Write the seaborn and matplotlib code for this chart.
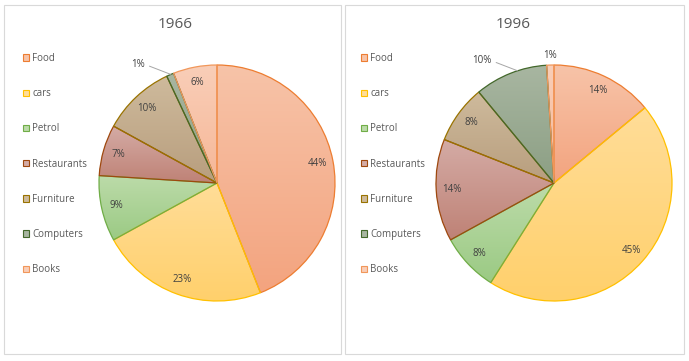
import numpy as np
import matplotlib
matplotlib.use("Agg")
import matplotlib.pyplot as plt
import matplotlib.patches as mpatches
from matplotlib.colors import LinearSegmentedColormap
import seaborn as sns

# данные
categories = ["Food", "cars", "Petrol", "Restaurants", "Furniture", "Computers", "Books"]
years = ["1966", "1996"]
share_1966 = [44, 23, 9, 7, 10, 1, 6]
share_1996 = [14, 45, 8, 14, 8, 10, 1]

# цвета: светлый верх / тёмный низ градиента, цвет контура
fill_top = ["#F7C3A8", "#FFDD98", "#BCDBA9", "#D4ABA5", "#CEBA9C", "#A8B6A1", "#F9CEB8"]
fill_bottom = ["#F3A47F", "#FFD06C", "#9BCA84", "#BF8276", "#B89E7E", "#8C9F84", "#F6B797"]
edge_colors = ["#ED7D31", "#FFC000", "#70AD47", "#9E480E", "#997300", "#43682B", "#F1975A"]

# какие подписи выносить наружу (индекс: с выноской или без)
outside_1966 = {5: True}
outside_1996 = {5: True, 6: False}

sns.set_theme(style="white")
plt.rcParams["font.family"] = ["Open Sans", "DejaVu Sans"]

W, H = 689, 361
fig = plt.figure(figsize=(W / 100, H / 100), dpi=100)
fig.patch.set_facecolor("white")

text_gray = "#595959"
label_gray = "#404040"


def px_axes(cx, cy, r):
    """Оси под круг с центром (cx, cy) в пикселях и радиусом r"""
    ax = fig.add_axes([(cx - r) / W, 1 - (cy + r) / H, 2 * r / W, 2 * r / H])
    ax.axis("off")
    return ax


def draw_pie(ax, values, outside):
    wedges, _ = ax.pie(values, startangle=90, counterclock=False, radius=1,
                       wedgeprops=dict(linewidth=0.9))
    for i, w in enumerate(wedges):
        w.set_facecolor("none")
        w.set_edgecolor(edge_colors[i])
        w.set_zorder(3)
        # вертикальный градиент внутри сектора
        bb = w.get_path().get_extents(w.get_patch_transform())
        cmap = LinearSegmentedColormap.from_list("g", [fill_bottom[i], fill_top[i]])
        grad = np.linspace(0, 1, 64).reshape(-1, 1)
        im = ax.imshow(grad, cmap=cmap, origin="lower", aspect="auto",
                       extent=[bb.x0, bb.x1, bb.y0, bb.y1], zorder=2)
        im.set_clip_path(w)

        ang = np.deg2rad((w.theta1 + w.theta2) / 2)
        lbl = f"{values[i]}%"
        if i in outside:
            if outside[i]:
                # точка на дуге у левого края сектора
                a0 = np.deg2rad(w.theta2 - 1.2 * (w.theta2 - w.theta1) / 2)
                ex, ey = np.cos(a0), np.sin(a0)
                ax.annotate(lbl, xy=(ex, ey), xytext=(ex - 0.22, ey + 0.085),
                            ha="right", va="center", fontsize=7, color=label_gray,
                            arrowprops=dict(arrowstyle="-", color="#A6A6A6", lw=0.7,
                                            shrinkA=1, shrinkB=0, relpos=(1, 0.5)),
                            zorder=5)
            else:
                ax.text(1.08 * np.cos(ang), 1.08 * np.sin(ang), lbl, ha="center", va="center",
                        fontsize=7, color=label_gray, zorder=5)
        else:
            ax.text(0.87 * np.cos(ang), 0.87 * np.sin(ang), lbl, ha="center", va="center",
                    fontsize=7, color=label_gray, zorder=5)
    ax.set_xlim(-1.02, 1.02)
    ax.set_ylim(-1.02, 1.02)


# рамки панелей
for x0, x1 in [(4, 341), (345, 684)]:
    fig.add_artist(mpatches.Rectangle((x0 / W, 1 - 354 / H), (x1 - x0) / W, 349 / H,
                                      transform=fig.transFigure, fill=False,
                                      edgecolor="#D9D9D9", linewidth=0.8))

panels = [
    (share_1966, outside_1966, 217, 183, 175, 23),
    (share_1996, outside_1996, 554, 183, 513, 361),
]
R = 118 * 1.02

for k, (vals, outside, cx, cy, title_x, lx) in enumerate(panels):
    ax = px_axes(cx, cy, R)
    draw_pie(ax, vals, outside)
    fig.text(title_x / W, 1 - 24 / H, years[k], ha="center", va="center",
             fontsize=11, color=text_gray)

    handles = [mpatches.Patch(facecolor=fill_top[i], edgecolor=edge_colors[i], linewidth=0.8,
                              label=categories[i]) for i in range(len(categories))]
    fig.legend(handles=handles, loc="upper left", bbox_to_anchor=(lx / W, 1 - 53 / H),
               frameon=False, fontsize=7, labelcolor=text_gray,
               handlelength=0.65, handleheight=0.65, handletextpad=0.3,
               labelspacing=2.49, borderpad=0, borderaxespad=0)

fig.savefig("out.png", dpi=100, facecolor="white")
